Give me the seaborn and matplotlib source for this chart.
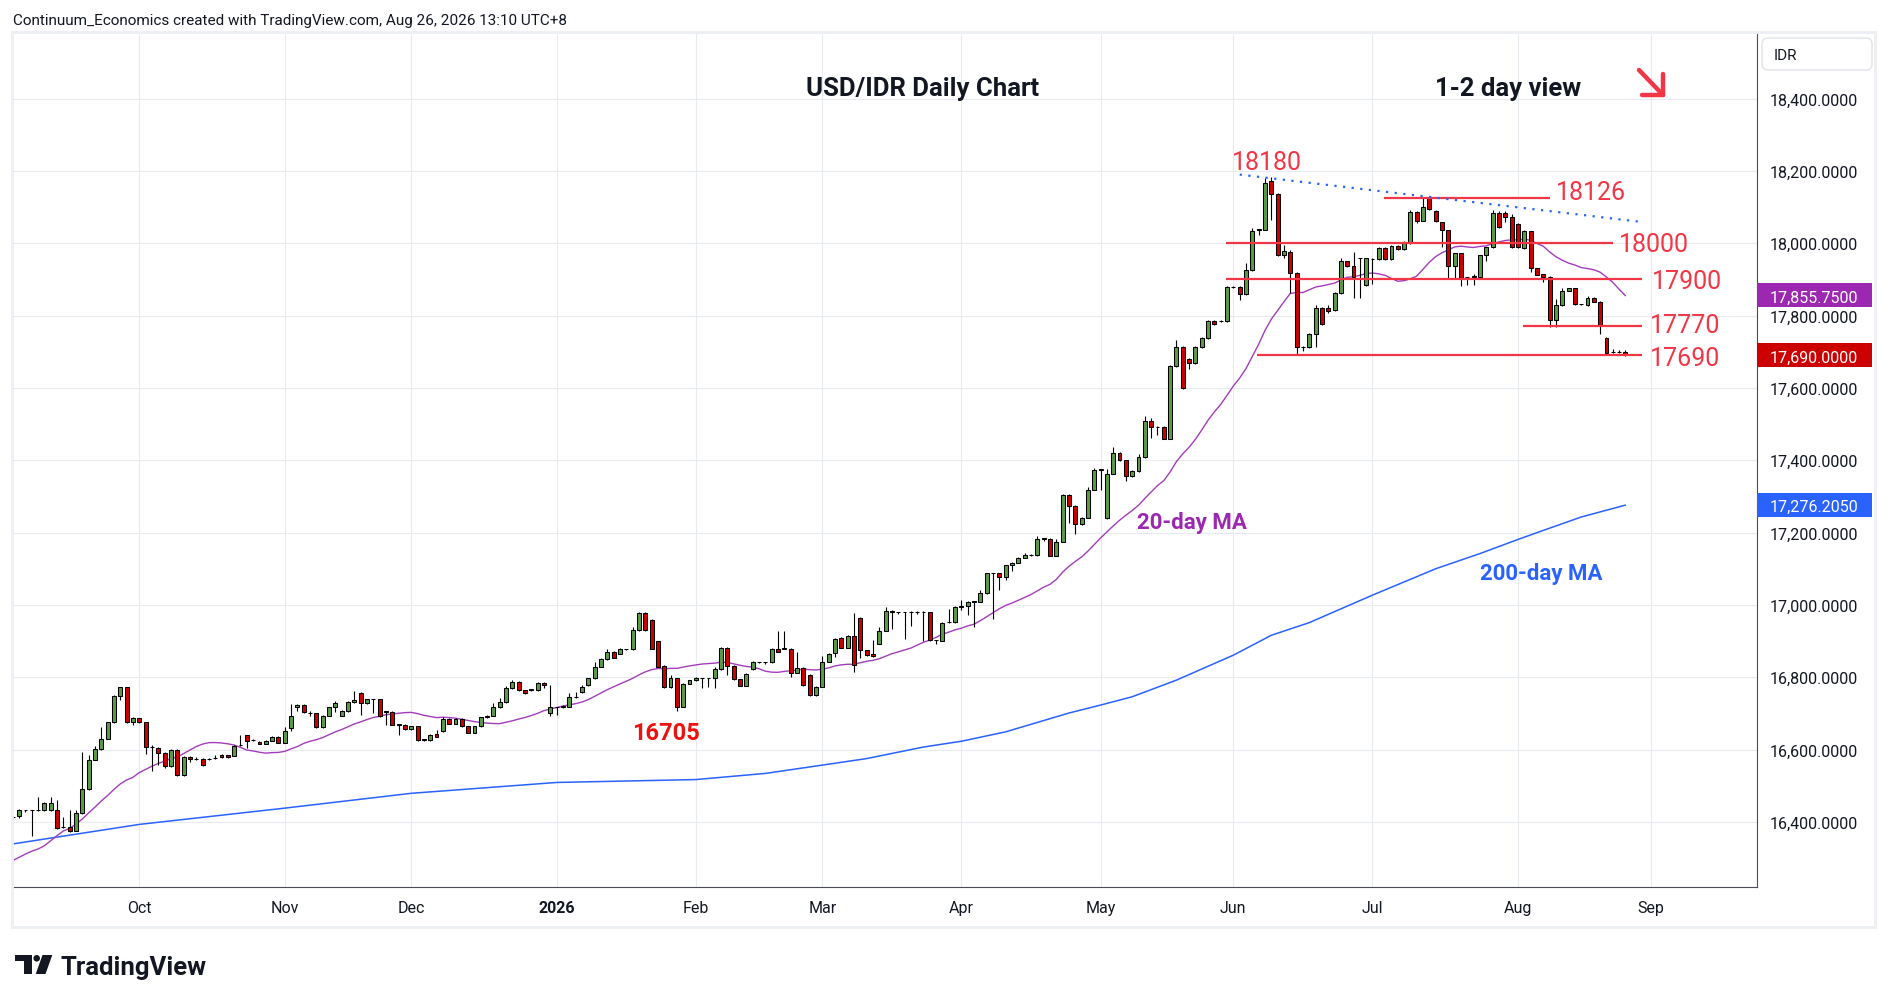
import numpy as np
import pandas as pd
import matplotlib
matplotlib.use("Agg")
import matplotlib.pyplot as plt
import matplotlib.transforms as mtransforms
from matplotlib.patches import Rectangle, FancyBboxPatch, Polygon, Circle
from matplotlib.lines import Line2D
import seaborn as sns

# ---------------- data ----------------
start_date = "2025-09-03"

open_ = [
    # Sep
    16413,16416,16432,16432,16432,16432,16432,16432,16385,16385,16376,16424,16491,16572,16602,16630,16675,16747,16772,16675,
    # Oct
    16686,16675,16608,16605,16591,16554,16599,16529,16580,16574,16574,16574,16576,16586,16584,16583,16612,16639,16626,16622,16616,16625,16636,
    # Nov
    16619,16659,16719,16724,16701,16700,16661,16694,16717,16694,16706,16731,16756,16728,16739,16739,16705,16705,16669,16669,
    # Dec
    16656,16664,16627,16627,16643,16650,16684,16672,16684,16664,16647,16664,16689,16694,16717,16731,16770,16787,16764,16765,16765,16784,16700,
    # Jan
    16717,16717,16719,16745,16758,16779,16797,16829,16850,16871,16865,16877,16877,16931,16977,16959,16899,16832,16772,16797,16719,16782,
    # Feb
    16791,16797,16797,16797,16822,16882,16832,16794,16777,16822,16841,16841,16841,16879,16879,16879,16813,16825,16806,16751,
    # Mar
    16774,16843,16867,16908,16882,16915,16965,16874,16864,16893,16929,16984,16979,16979,16980,16980,16980,16979,16902,16901,16952,16952,
    # Apr
    16995,16997,17009,17009,17032,17087,17087,17078,17109,17117,17131,17138,17138,17183,17183,17136,17175,17304,17274,17223,17241,17319,
    # May
    17374,17240,17363,17420,17400,17357,17370,17409,17509,17492,17492,17460,17661,17713,17680,17669,17713,17738,17785,17785,17785,
    # Jun
    17879,17879,17860,17926,18038,18038,18172,18137,17967,17976,17918,17713,17713,17750,17821,17821,17815,17863,17950,17936,17958,17884,
    # Jul
    17956,17956,17988,17956,17993,17984,18000,18086,18063,18127,18088,18058,18036,17938,17972,17906,17908,17908,17967,17989,18084,18084,18072,
    # Aug
    18054,17986,18033,17931,17914,17908,17788,17828,17869,17875,17831,17829,17850,17839,17739,17699,17699,17699,
]
high_ = [
    16416,16436,16434,16434,16469,16454,16469,16460,16413,16433,16433,16592,16585,16611,16661,16677,16750,16774,16774,16691,
    16688,16677,16613,16607,16593,16601,16601,16582,16582,16580,16576,16576,16586,16588,16586,16613,16639,16641,16628,16624,16627,16638,16638,
    16661,16726,16726,16726,16707,16702,16696,16719,16735,16708,16733,16761,16758,16741,16741,16741,16707,16707,16671,16671,
    16666,16666,16629,16643,16655,16691,16686,16686,16686,16666,16666,16691,16696,16728,16743,16775,16793,16789,16766,16767,16787,16786,16778,
    16719,16723,16756,16760,16779,16799,16843,16852,16877,16873,16880,16879,16940,16979,16979,16961,16901,16834,16806,16799,16784,16793,
    16802,16799,16799,16829,16884,16884,16834,16796,16811,16845,16843,16843,16882,16929,16929,16881,16871,16827,16808,16776,
    16860,16867,16908,16910,16917,16977,16967,16876,16903,16940,16995,16986,16981,16981,16982,16982,16982,16981,16904,16953,16989,16997,
    17014,17011,17011,17040,17089,17089,17089,17111,17119,17133,17143,17140,17191,17185,17185,17183,17306,17306,17276,17243,17326,17379,
    17376,17377,17437,17422,17402,17374,17416,17522,17516,17494,17494,17663,17732,17715,17682,17717,17742,17787,17787,17787,17881,
    17881,17881,17946,18043,18040,18181,18183,18139,17994,17981,17920,17715,17752,17829,17823,17829,17865,17958,17952,17976,17960,17960,
    17958,17990,17990,17995,17995,18005,18093,18088,18129,18129,18093,18060,18038,17974,17974,17908,17915,17969,17991,18092,18089,18089,18081,
    18056,18037,18035,17933,17916,17910,17845,17875,17877,17877,17833,17855,17852,17841,17741,17708,17706,17704,
]
low_ = [
    16410,16412,16427,16360,16430,16430,16430,16380,16383,16371,16374,16422,16489,16570,16600,16628,16673,16738,16673,16668,
    16673,16589,16540,16557,16548,16552,16526,16527,16566,16570,16555,16572,16575,16578,16578,16581,16611,16603,16624,16614,16614,16623,16617,
    16617,16650,16707,16701,16692,16659,16659,16692,16704,16692,16704,16729,16696,16726,16701,16690,16669,16667,16641,16654,
    16654,16625,16625,16625,16634,16648,16670,16670,16662,16645,16645,16662,16687,16692,16715,16729,16768,16763,16754,16763,16763,16770,16694,
    16696,16715,16717,16743,16756,16777,16795,16827,16848,16852,16863,16875,16875,16929,16929,16877,16827,16770,16770,16707,16717,16780,
    16789,16770,16772,16770,16820,16806,16792,16775,16775,16820,16839,16837,16839,16869,16877,16802,16811,16777,16749,16749,
    16772,16841,16857,16880,16880,16815,16853,16860,16856,16891,16927,16934,16975,16906,16942,16976,16900,16900,16892,16899,16950,16950,
    16986,16972,16940,17007,17030,16961,17041,17069,17095,17115,17129,17136,17136,17176,17134,17134,17173,17227,17196,17221,17239,17317,
    17317,17238,17361,17398,17343,17355,17368,17407,17462,17471,17458,17458,17659,17598,17652,17667,17711,17736,17775,17783,17783,
    17877,17842,17858,17924,18024,18036,18064,17965,17960,17863,17693,17701,17711,17713,17774,17806,17813,17861,17934,17849,17849,17882,
    17887,17954,17954,17954,17982,17982,17998,18056,18061,18093,18059,17991,17903,17903,17882,17885,17885,17906,17952,17987,18042,18059,17987,
    17987,17984,17921,17911,17892,17769,17769,17826,17867,17829,17829,17827,17837,17750,17695,17697,17697,17688,
]
close_ = [
    16413,16432,16432,16433,16433,16452,16452,16383,16385,16376,16424,16491,16572,16602,16630,16675,16747,16772,16675,16686,
    16675,16608,16607,16591,16554,16599,16529,16580,16575,16575,16557,16574,16577,16580,16580,16611,16613,16625,16626,16616,16625,16636,16619,
    16650,16694,16724,16703,16700,16661,16694,16717,16728,16706,16731,16737,16728,16739,16739,16692,16705,16669,16669,16656,
    16664,16627,16627,16641,16636,16684,16672,16684,16664,16647,16664,16689,16694,16717,16731,16770,16787,16765,16756,16765,16784,16778,16717,
    16717,16721,16745,16745,16772,16797,16829,16850,16871,16854,16877,16877,16931,16977,16931,16879,16829,16772,16799,16719,16782,16791,
    16797,16797,16797,16822,16882,16832,16794,16777,16809,16841,16841,16841,16879,16871,16879,16813,16825,16779,16751,16774,
    16843,16865,16906,16882,16915,16833,16874,16862,16858,16929,16984,16979,16979,16979,16980,16980,16980,16902,16902,16951,16952,16995,
    16997,17009,17009,17032,17087,17087,17078,17109,17117,17131,17138,17138,17183,17183,17136,17175,17304,17274,17223,17241,17319,17374,
    17374,17363,17420,17400,17357,17370,17409,17509,17492,17492,17460,17661,17713,17600,17669,17713,17738,17785,17777,17785,17879,
    17879,17860,17926,18034,18038,18168,18137,17967,17979,17918,17713,17713,17750,17821,17776,17814,17863,17950,17936,17907,17958,17958,
    17956,17988,17956,17993,17984,18000,18086,18063,18100,18095,18061,18036,17938,17972,17903,17906,17908,17967,17989,18084,18044,18072,17989,
    17989,18033,17931,17913,17907,17788,17828,17869,17875,17831,17831,17850,17839,17771,17697,17699,17699,17690,
]

# 20-day MA values for the first 19 bars (earlier closes not shown)
ma20_head = [16293,16302,16311,16319,16325,16334,16348,16362,16375,16382,
             16394,16408,16425,16441,16458,16473,16490,16505,16516]

# 200-day MA
ma200_dates = ["2025-09-03","2025-10-01","2025-11-03","2025-12-01","2026-01-01","2026-02-02",
               "2026-02-17","2026-03-02","2026-03-11","2026-03-24","2026-04-01","2026-04-10",
               "2026-04-24","2026-05-01","2026-05-08","2026-05-19","2026-06-01","2026-06-09",
               "2026-06-17","2026-07-01","2026-07-15","2026-07-24","2026-08-03","2026-08-07",
               "2026-08-17","2026-08-26"]
ma200_vals = [16339,16393,16438,16479,16509,16517,
              16534,16557,16575,16607,16623,16649,
              16701,16723,16746,16792,16861,16916,
              16951,17027,17100,17142,17181,17206,
              17243,17276]

# support / resistance levels
level_vals = [18126, 18000, 17900, 17770, 17690]
level_labels = ["18126", "18000", "17900", "17770", "17690"]
peak_label, trough_label = "18180", "16705"
trend_vals = [18190, 18060]

price_ticks = list(range(16400, 18401, 200))
month_names = ["Oct", "Nov", "Dec", "2026", "Feb", "Mar", "Apr", "May", "Jun", "Jul", "Aug", "Sep"]
month_starts = ["2025-10-01", "2025-11-03", "2025-12-01", "2026-01-01", "2026-02-02", "2026-03-02",
                "2026-04-01", "2026-05-01", "2026-06-01", "2026-07-01", "2026-08-03", "2026-09-01"]

last_ma20_label = 17855.75
last_ma200_label = 17276.205

# ---------------- setup ----------------
sns.set_theme(style="white")
plt.rcParams["font.family"] = ["Roboto", "DejaVu Sans"]

W, H = 1890, 1003
GREEN = "#5a9b45"
RED = "#cc0000"
LRED = "#f23645"
PURPLE = "#9c27b0"
BLUE = "#2962ff"
TXT = "#131722"

n = len(close_)
dates = pd.bdate_range(start_date, periods=n)
all_days = pd.bdate_range(start_date, "2026-10-30")
pos = {d: i for i, d in enumerate(all_days)}
idx = np.arange(n)

df = pd.DataFrame({"date": dates, "i": idx, "open": open_, "high": high_, "low": low_, "close": close_})
ma20 = df["close"].rolling(20).mean().to_numpy()
ma20[:19] = ma20_head
df["ma20"] = ma20

ma200_df = pd.DataFrame({"i": [pos[pd.Timestamp(d)] for d in ma200_dates], "ma200": ma200_vals})

fig = plt.figure(figsize=(W / 100, H / 100), dpi=100)
fig.patch.set_facecolor("white")

def fx(px):
    return px / W

def fy(py):
    return 1 - py / H

ax = fig.add_axes([fx(12), fy(888), fx(1757) - fx(12), fy(33) - fy(888)])
ax.set_facecolor("white")

XMIN, XMAX = -0.13, 275.8
YMIN, YMAX = 16219.9, 18584.3
ax.set_xlim(XMIN, XMAX)
ax.set_ylim(YMIN, YMAX)

# grid
mpos = [pos[pd.Timestamp(d)] for d in month_starts]
for p in price_ticks:
    ax.axhline(p, color="#e7ebf0", lw=0.8, zorder=0)
for m in mpos:
    ax.axvline(m, color="#e7ebf0", lw=0.8, zorder=0)

# moving averages
sns.lineplot(data=ma200_df, x="i", y="ma200", ax=ax, color=BLUE, lw=1.1, zorder=2, legend=False)
sns.lineplot(data=df, x="i", y="ma20", ax=ax, color="#a43dbb", lw=1.0, zorder=2, legend=False)

# candles
o = df["open"].to_numpy(float)
c = df["close"].to_numpy(float)
up = c >= o
ax.vlines(idx, df["low"], df["high"], color="black", lw=0.8, zorder=3)
ax.bar(idx, np.maximum(np.abs(c - o), 1.2), bottom=np.minimum(o, c), width=0.62,
       color=np.where(up, GREEN, RED), edgecolor="black", linewidth=0.75, zorder=4)

# levels
level_spans = [(216.8, 243.1), (191.9, 253.1), (191.9, 257.6), (238.8, 257.6), (196.8, 257.6)]
for v, (a, b) in zip(level_vals, level_spans):
    ax.hlines(v, a, b, color=LRED, lw=1.6, zorder=5)

ax.plot([194.0, 257.1], trend_vals, color=BLUE, lw=1.6, ls=(0, (1, 2.9)), zorder=5)

# labels
lab_kw = dict(color=LRED, fontsize=18, ha="left", va="center_baseline", zorder=6)
ax.text(192.8, 18233, peak_label, **lab_kw)
ax.text(244.0, 18150, level_labels[0], **lab_kw)
ax.text(254.0, 18004, level_labels[1], **lab_kw)
ax.text(259.2, 17904, level_labels[2], **lab_kw)
ax.text(258.8, 17780, level_labels[3], **lab_kw)
ax.text(258.8, 17691, level_labels[4], **lab_kw)
ax.text(97.9, 16654, trough_label, color="#ee1111", fontsize=17, fontweight="bold",
        ha="left", va="center_baseline", zorder=6)
ax.text(143.8, 18435, "USD/IDR Daily Chart", color=TXT, fontsize=18.5, fontweight="bold",
        ha="center", va="center_baseline", zorder=6)
ax.text(224.9, 18437, "1-2 day view", color=TXT, fontsize=18.5, fontweight="bold",
        ha="left", va="center_baseline", zorder=6)
ax.text(177.7, 17235, "20-day MA", color=PURPLE, fontsize=16, fontweight="bold",
        ha="left", va="center_baseline", zorder=6)
ax.text(232.0, 17096, "200-day MA", color=BLUE, fontsize=16, fontweight="bold",
        ha="left", va="center_baseline", zorder=6)

# spines / ticks
for s in ["top", "left"]:
    ax.spines[s].set_visible(False)
for s in ["right", "bottom"]:
    ax.spines[s].set_color("#4a4d57")
    ax.spines[s].set_linewidth(0.8)
ax.yaxis.tick_right()
ax.set_yticks(price_ticks)
ax.set_yticklabels([f"{p:,.4f}" for p in price_ticks], va="center_baseline")
ax.tick_params(axis="y", length=0, pad=9, labelsize=11.5, labelcolor=TXT)
ax.set_xticks([])
ax.set_xlabel("")
ax.set_ylabel("")

# month labels
blend = mtransforms.blended_transform_factory(ax.transData, ax.transAxes)
for m, name in zip(mpos, month_names):
    ax.text(m, -(913.5 - 888) / 855, name, transform=blend, ha="center", va="baseline",
            fontsize=11.5, color=TXT, fontweight="bold" if name == "2026" else "normal",
            clip_on=False)

# price boxes on right axis
yblend = mtransforms.blended_transform_factory(ax.transAxes, ax.transData)
box_h = 24 / 0.3616
for val, col in [(last_ma20_label, PURPLE), (close_[-1], RED), (last_ma200_label, BLUE)]:
    ax.add_patch(Rectangle((1.0, val - box_h / 2), 115 / 1745, box_h, transform=yblend,
                           facecolor=col, edgecolor="none", clip_on=False, zorder=10))
    ax.text(1.0 + 13 / 1745, val, f"{val:,.4f}", transform=yblend, color="white",
            fontsize=11.5, ha="left", va="center_baseline", zorder=11, clip_on=False)

# figure decorations (pixel coordinates)
ident = mtransforms.IdentityTransform()
fig.add_artist(Rectangle((12, H - 928), 1863, 895, transform=ident, fill=False,
                         edgecolor="#eceff3", lw=2))
fig.add_artist(FancyBboxPatch((1762, H - 71), 110, 32, boxstyle="round,pad=0,rounding_size=6",
                              transform=ident, facecolor="white", edgecolor="#e0e3eb", lw=1))
fig.text(fx(1773.5), fy(55), "IDR", fontsize=11, color=TXT, ha="left", va="center_baseline")
fig.text(fx(13), fy(19.5), "Continuum_Economics created with TradingView.com, Aug 26, 2026 13:10 UTC+8",
         fontsize=11, color=TXT, ha="left", va="center_baseline")

# down arrow
for (x0, y0, x1, y1) in [(1639, 71, 1663, 96), (1663, 96, 1663, 75), (1663, 96, 1642, 96)]:
    fig.add_artist(Line2D([x0, x1], [H - y0, H - y1], transform=ident, color=LRED, lw=3.2,
                          solid_capstyle="round", solid_joinstyle="round"))

# TradingView logo
fig.add_artist(Polygon([(15, H - 956), (31.7, H - 956), (31.7, H - 975), (24.3, H - 975),
                        (24.3, H - 962.3), (15, H - 962.3)], closed=True, transform=ident,
                       facecolor=TXT, edgecolor="none"))
fig.add_artist(Circle((36.7, H - 959.3), 3.3, transform=ident, facecolor=TXT, edgecolor="none"))
fig.add_artist(Polygon([(42.5, H - 956), (52.3, H - 956), (45.5, H - 975), (35.7, H - 975)],
                       closed=True, transform=ident, facecolor=TXT, edgecolor="none"))
fig.text(fx(61), fy(975), "TradingView", fontsize=18.5, fontweight="bold", color=TXT,
         ha="left", va="baseline")

fig.savefig("out.png", dpi=100, facecolor="white")
